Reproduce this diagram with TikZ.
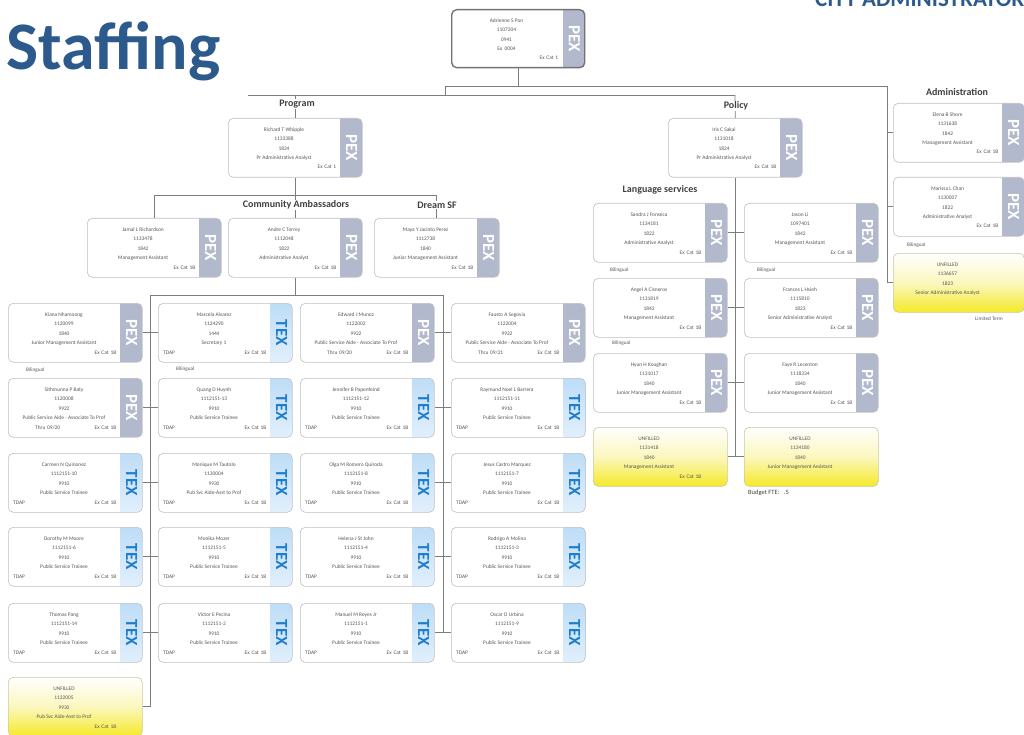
\documentclass[tikz,border=0pt]{standalone}
\usepackage{fontspec}
\setmainfont{Carlito}
\usetikzlibrary{calc}
\definecolor{titlec}{RGB}{45,90,140}
\definecolor{pexc}{RGB}{178,185,204}
\definecolor{texa}{RGB}{190,221,247}
\definecolor{texb}{RGB}{225,239,252}
\definecolor{texfg}{RGB}{30,125,205}
\definecolor{unfy}{RGB}{245,233,40}
\definecolor{unfm}{RGB}{251,247,190}
\definecolor{linec}{RGB}{125,125,125}
\definecolor{boxb}{RGB}{192,192,192}
\definecolor{txtc}{RGB}{85,85,85}
\newcommand{\bw}{134}
\tikzset{
 box/.style={rounded corners=5pt, draw=boxb, line width=0.6pt, minimum width=\bw pt, minimum height=59pt, inner sep=0pt},
 pexbox/.style={box, fill=white, path picture={\fill[pexc, sharp corners] ([xshift=-22pt]path picture bounding box.north east) rectangle (path picture bounding box.south east);}},
 texbox/.style={box, fill=white, path picture={\shade[sharp corners, top color=texa, bottom color=texb] ([xshift=-22pt]path picture bounding box.north east) rectangle (path picture bounding box.south east);}},
 unfbox/.style={box, draw=boxb!80!unfy, top color=white, bottom color=unfy, middle color=unfm},
 rootbox/.style={pexbox, draw=black!55, line width=1.4pt, minimum height=58pt},
 striplab/.style={rotate=-90, inner sep=0pt, font=\bfseries\fontsize{17}{17}\selectfont},
 btxt/.style={inner sep=0pt, text=txtc, font=\fontsize{5.4}{9.5}\selectfont, align=center},
 conn/.style={draw=linec, line width=0.7pt},
 lbl/.style={font=\bfseries\fontsize{10}{12}\selectfont, text=black!75, fill=white, inner sep=1pt},
 small/.style={font=\fontsize{5.2}{6}\selectfont, text=txtc, inner sep=0pt, anchor=west},
}
\newcommand{\labpexbox}[1]{\node[striplab, text=white] (#1-s) at ([xshift=-11pt]#1.east) {PEX};}
\newcommand{\labrootbox}[1]{\node[striplab, text=white] (#1-s) at ([xshift=-11pt]#1.east) {PEX};}
\newcommand{\labtexbox}[1]{\node[striplab, text=texfg] (#1-s) at ([xshift=-11pt]#1.east) {TEX};}
\newcommand{\labunfbox}[1]{}
% #1 name, #2 x, #3 y, #4 kind, #5-#8 lines, #9 bottom row
\newcommand{\ob}[9]{%
 \node[#4, anchor=north west] (#1) at (#2,#3) {};
 \csname lab#4\endcsname{#1}%
 \pgfmathsetmacro\tc{(\bw-22)/2}%
 \pgfmathsetmacro\tw{\bw-31}%
 \node[btxt, anchor=north] at ($(#1.north west)+(\tc,9.5)$) {#5\\#6\\#7\\#8};
 \node[btxt, anchor=base west, text width=\tw pt, align=left] at ($(#1.north west)+(5,51)$) {#9};
}
\newcommand{\exb}{\hfill Ex Cat 1B}
\newcommand{\tdap}{TDAP\hfill Ex Cat 1B}
\newcommand{\pst}{Public Service Trainee}
\newcommand{\psa}{Public Service Aide - Associate To Prof}
\begin{document}
\begin{tikzpicture}[x=1pt,y=-1pt]
\useasboundingbox (0,0) rectangle (1024,735);
\fill[white] (0,0) rectangle (1024,735);

% titles
\node[anchor=base west, inner sep=0pt, text=titlec, font=\bfseries\fontsize{68}{70}\selectfont] (ttl) at (6,70) {Staffing};
\node[anchor=base west, inner sep=0pt, text=titlec, font=\bfseries\fontsize{23}{25}\selectfont] (hdr) at (815,7) {CITY ADMINISTRATOR};

% top boxes
\renewcommand{\bw}{133}
\ob{root}{451}{9}{rootbox}{Adrienne S Pon}{1107204}{0941}{Ex\ \ 0004}{\hfill Ex Cat 1}
\renewcommand{\bw}{134}
\ob{pg}{228}{118}{pexbox}{Richard T Whipple}{1133388}{1824}{Pr Administrative Analyst}{\hfill Ex Cat 1}
\ob{pol}{668}{118}{pexbox}{Iris C Sakai}{1131018}{1824}{Pr Administrative Analyst}{\exb}
\ob{jm}{87}{218}{pexbox}{Jamal L Richardson}{1133478}{1842}{Management Assistant}{\exb}
\ob{amb}{228}{218}{pexbox}{Andre C Torrey}{1112048}{1822}{Administrative Analyst}{\exb}
\renewcommand{\bw}{125}
\ob{drm}{374}{218}{pexbox}{Maya Y Jacinto Perez}{1112738}{1840}{Junior Management Assistant}{\exb}
\renewcommand{\bw}{134}

% grid column 1
\ob{g11}{8}{303}{pexbox}{Kiana Nhamoong}{1120099}{1840}{Junior Management Assistant}{\exb}
\ob{g12}{8}{378}{pexbox}{Sithmunna P Baty}{1120008}{9922}{\psa}{\hspace{22pt}Thru 09/20\hfill Ex Cat 1B}
\ob{g13}{8}{453}{texbox}{Carmen N Quinonez}{1112151-10}{9910}{\pst}{\tdap}
\ob{g14}{8}{527}{texbox}{Dorothy M Moore}{1112151-6}{9910}{\pst}{\tdap}
\ob{g15}{8}{603}{texbox}{Thomas Pang}{1112151-14}{9910}{\pst}{\tdap}
\ob{g16}{8}{677}{unfbox}{UNFILLED}{1122005}{9930}{Pub Svc Aide-Asst to Prof}{\exb}
% column 2
\ob{g21}{158}{303}{texbox}{Marcela Alvarez}{1124290}{1444}{Secretary 1}{\tdap}
\ob{g22}{158}{378}{texbox}{Quang D Huynh}{1112151-13}{9910}{\pst}{\tdap}
\ob{g23}{158}{453}{texbox}{Monique M Tautolo}{1130004}{9930}{Pub Svc Aide-Asst to Prof}{\tdap}
\ob{g24}{158}{527}{texbox}{Monika Mozer}{1112151-5}{9910}{\pst}{\tdap}
\ob{g25}{158}{603}{texbox}{Victor E Pecina}{1112151-2}{9910}{\pst}{\tdap}
% column 3
\ob{g31}{300}{303}{pexbox}{Edward J Munoz}{1122002}{9922}{\psa}{\hspace{22pt}Thru 09/20\hfill Ex Cat 1B}
\ob{g32}{300}{378}{texbox}{Jennifer B Papenfeind}{1112151-12}{9910}{\pst}{\tdap}
\ob{g33}{300}{453}{texbox}{Olga M Romero Quiroda}{1112151-8}{9910}{\pst}{\tdap}
\ob{g34}{300}{527}{texbox}{Helena J St John}{1112151-4}{9910}{\pst}{\tdap}
\ob{g35}{300}{603}{texbox}{Manuel M Reyes Jr}{1112151-1}{9910}{\pst}{\tdap}
% column 4
\ob{g41}{451}{303}{pexbox}{Fausto A Segovia}{1122004}{9922}{\psa}{\hspace{22pt}Thru 09/21\hfill Ex Cat 1B}
\ob{g42}{451}{378}{texbox}{Raymund Noel L Barrera}{1112151-11}{9910}{\pst}{\tdap}
\ob{g43}{451}{453}{texbox}{Jesus Castro Marquez}{1112151-7}{9910}{\pst}{\tdap}
\ob{g44}{451}{527}{texbox}{Rodrigo A Molina}{1112151-3}{9910}{\pst}{\tdap}
\ob{g45}{451}{603}{texbox}{Oscar O Urbina}{1112151-9}{9910}{\pst}{\tdap}

% language services
\ob{l1}{593}{203}{pexbox}{Sandra J Fonseca}{1134181}{1822}{Administrative Analyst}{\exb}
\ob{r1}{744}{203}{pexbox}{Jason Li}{1097401}{1842}{Management Assistant}{\exb}
\ob{l2}{593}{278}{pexbox}{Angel A Cisneros}{1131819}{1842}{Management Assistant}{\exb}
\ob{r2}{744}{278}{pexbox}{Frances L Hsieh}{1115810}{1823}{Senior Administrative Analyst}{\exb}
\ob{l3}{593}{353}{pexbox}{Hyun H Koughan}{1131017}{1840}{Junior Management Assistant}{\exb}
\ob{r3}{744}{353}{pexbox}{Faye R Lecenton}{1118334}{1840}{Junior Management Assistant}{\exb}
\ob{l4}{593}{427}{unfbox}{UNFILLED}{1131418}{1840}{Management Assistant}{\exb}
\ob{r4}{744}{427}{unfbox}{UNFILLED}{1134180}{1840}{Junior Management Assistant}{}

% administration
\renewcommand{\bw}{131}
\ob{a1}{893}{103}{pexbox}{Elena B Shore}{1131638}{1842}{Management Assistant}{\exb}
\ob{a2}{893}{177}{pexbox}{Marissa L Chan}{1130007}{1822}{Administrative Analyst}{\exb}
\ob{a3}{893}{253}{unfbox}{UNFILLED}{1136657}{1823}{Senior Administrative Analyst}{}

% bus coordinates
\coordinate (b1L) at (445,86);
\coordinate (b1R) at (887,86);
\coordinate (b2L) at (248,95);
\coordinate (b2R) at (735,95);
\coordinate (gL) at (150,295);
\coordinate (gR) at (443,295);

% connectors
\draw[conn] (root.south) -- (root.south |- b1L);
\draw[conn] (b1L) -- (b1R);
\draw[conn] (b1L) -- (b1L |- b2L);
\draw[conn] (b2L) -- (b2R);
\draw[conn] (pg.north |- b2L) -- (pg.north);
\draw[conn] (b2R) -- (pol.north);
\draw[conn] (b1R) -- (b1R |- a3.west);
\foreach \n in {a1,a2,a3} \draw[conn] (b1R |- \n.west) -- (\n.west);

\draw[conn] (pg.south) -- (amb.north);
\draw[conn] (jm.north) -- ++(0,-23) -| (drm.north);

\draw[conn] (amb.south) -- (amb.south |- gL);
\draw[conn] (gL) -- (gR);
\draw[conn] (gL) |- (g16.east);
\draw[conn] (gR) -- (gR |- g45.west);
\foreach \i in {1,...,5} {
  \draw[conn] (g1\i.east) -- (g2\i.west);
  \draw[conn] (g3\i.east) -- (g4\i.west);
}

\draw[conn] (pol.south) -- (pol.south |- l4.east);
\foreach \i in {1,...,4} \draw[conn] (l\i.east) -- (r\i.west);

% labels
\node[lbl] (lprog) at (297,104) {Program};
\node[lbl] (lpol) at (736,106) {Policy};
\node[lbl] (ladm) at (957,92) {Administration};
\node[lbl] (lca) at (296,205) {Community Ambassadors};
\node[lbl] (ldsf) at (437,205) {Dream SF};
\node[lbl] (llang) at (660,190) {Language services};

\node[small] (bl1) at (26,370) {Bilingual};
\node[small] (bl2) at (176,369) {Bilingual};
\node[small] (bl3) at (610,270) {Bilingual};
\node[small] (bl4) at (757,270) {Bilingual};
\node[small] (bl5) at (612,343) {Bilingual};
\node[small] (bl6) at (907,245) {Bilingual};
\node[small] (lt) at (975,319) {Limited Term};
\node[anchor=west, inner sep=0pt, text=black!75, font=\fontsize{6.5}{8}\selectfont] (bfte) at (748,493) {Budget FTE:\ \ \ .5};
\end{tikzpicture}
\end{document}
